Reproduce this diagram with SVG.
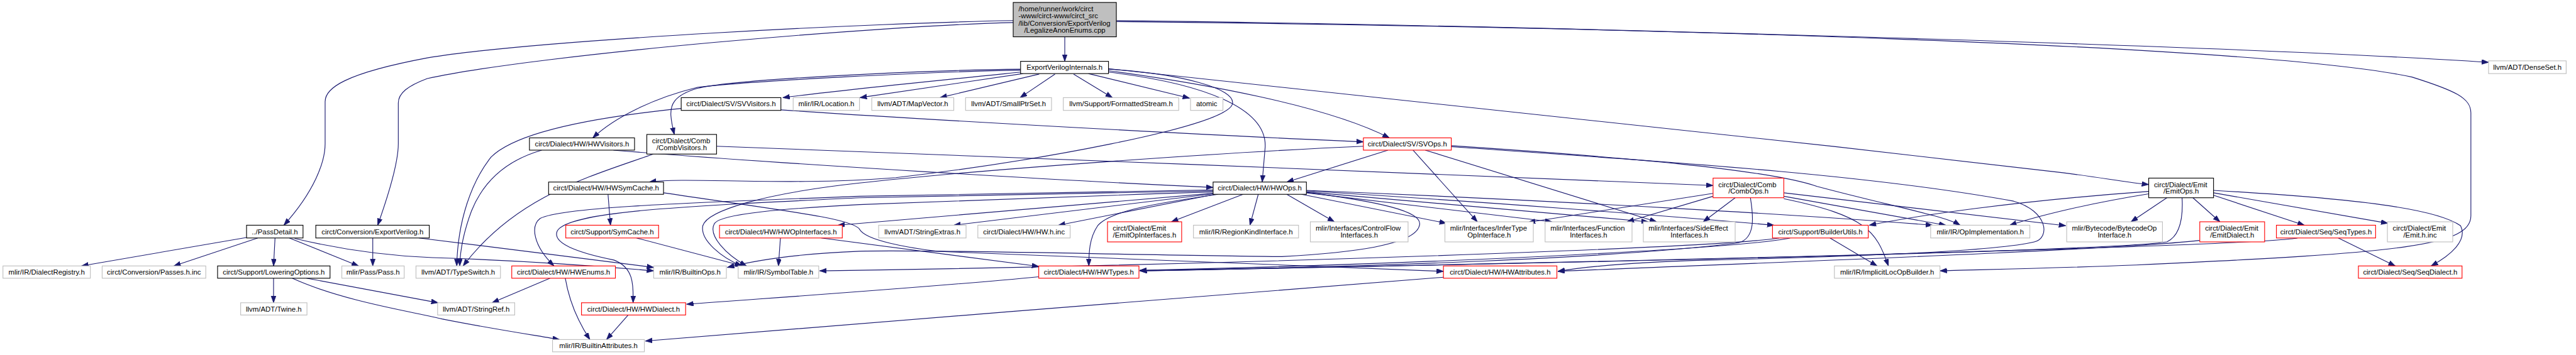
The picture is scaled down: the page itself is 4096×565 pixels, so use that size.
<svg xmlns="http://www.w3.org/2000/svg" width="4096" height="565" viewBox="0 0 4096 565">
<style>
.node rect{fill:#fff;stroke:#bfbfbf;stroke-width:1.45}
.node.b rect{stroke:#000}
.node.r rect{stroke:#ff0000}
.node.m rect{fill:#bfbfbf;stroke:#000}
.node text{font-family:"Liberation Sans",Arial,sans-serif;font-size:14.6px;fill:#000;text-anchor:middle}
.node text.l{text-anchor:start}
#edges path{fill:none;stroke:#191970;stroke-width:1.45;marker-end:url(#ah)}
</style>
<defs>
<marker id="ah" markerUnits="userSpaceOnUse" markerWidth="15" markerHeight="11" refX="14" refY="5" orient="auto">
<path d="M0,0 L14,5 L0,10 z" fill="#191970" stroke="#191970" stroke-width="1"/>
</marker>
</defs>
<rect width="4096" height="565" fill="#fff"/>
<g transform="scale(0.78093)">
<g id="edges">
<path d="M2168,75 L2168,125"/>
<path d="M2063,42 C1800,46 1100,80 870,118 C700,150 662,180 662,207 L662,293 C662,330 640,390 578,459"/>
<path d="M2063,46 C1800,52 1100,110 870,160 C830,175 811,190 811,210 L811,293 C811,330 790,400 769,459"/>
<path d="M2273,42 C3000,50 4500,90 5067,127"/>
<path d="M2273,44 C3300,55 4600,90 4911,157 C5000,185 5031,200 5031,230 L5031,440 C5031,500 4900,515 4350,540 C4150,548 4000,550 3950,552"/>
<path d="M2078,141 C1900,143 1500,160 1420,180 C1370,195 1365,215 1366,235 C1367,250 1370,262 1373,274"/>
<path d="M2078,143 C1900,146 1520,165 1420,178 C1330,200 1250,240 1207,281"/>
<path d="M2078,147 C1900,165 1700,185 1594,199"/>
<path d="M2083,150 L1751,199"/>
<path d="M2116,151 L1914,199"/>
<path d="M2148,151 L2077,199"/>
<path d="M2186,151 L2265,199"/>
<path d="M2216,150 L2422,200"/>
<path d="M2257,144 C2450,170 2700,215 2829,281"/>
<path d="M2257,141 C2400,150 2520,180 2509,213 C2490,260 2100,330 1824,362 C1600,380 1400,360 1322,371"/>
<path d="M2257,147 C2450,170 2580,220 2576,300 L2570,371"/>
<path d="M2257,140 C2700,185 3500,270 4200,352 C4280,362 4330,372 4375,376"/>
<path d="M502,484 L166,542"/>
<path d="M525,485 L354,542"/>
<path d="M560,485 L557,542"/>
<path d="M589,485 L730,542"/>
<path d="M600,486 C700,510 800,522 880,525 C1100,532 1250,545 1331,552"/>
<path d="M759,485 L759,542"/>
<path d="M853,485 C950,497 1200,528 1331,545"/>
<path d="M557,567 L557,617"/>
<path d="M624,567 L892,617"/>
<path d="M595,567 C700,615 850,637 900,650 C1000,670 1100,685 1139,692"/>
<path d="M1387,221 C1200,240 1050,270 1000,320 C960,370 932,450 930,542"/>
<path d="M1590,224 C1900,245 2500,278 2776,289"/>
<path d="M1103,306 C1020,330 980,380 960,430 C945,470 937,510 936,542"/>
<path d="M1249,306 C1600,335 2200,370 2470,382"/>
<path d="M1330,314 C1200,360 1050,400 943,542"/>
<path d="M1459,298 C2000,320 3000,355 3488,378"/>
<path d="M2826,306 L2620,371"/>
<path d="M2877,306 L3008,452"/>
<path d="M2902,306 L3373,452"/>
<path d="M2955,297 C3300,320 3600,345 3700,380 C3850,420 3960,440 3991,459"/>
<path d="M2955,299 C3400,330 3800,355 4100,410 C4170,430 4175,485 4142,493 C4050,515 3700,525 3480,530 C3300,535 3220,545 3172,553"/>
<path d="M2776,298 C2500,310 2000,345 1750,373 C1550,395 1440,430 1431,460 C1425,490 1470,525 1510,542"/>
<path d="M2470,391 C2200,400 1900,410 1750,417 C1600,425 1470,435 1455,455 C1440,480 1480,520 1520,542"/>
<path d="M2470,387 C2100,392 1800,397 1750,400 C1450,412 1150,420 1100,445 C1080,460 1085,500 1128,542"/>
<path d="M2470,389 C2100,395 1800,402 1750,403 C1400,420 1160,430 1135,470 C1120,500 1200,520 1250,530 C1290,545 1290,580 1289,617"/>
<path d="M2470,394 L1706,459"/>
<path d="M2470,395 L1942,459"/>
<path d="M2474,396 L2155,459"/>
<path d="M2531,396 L2385,452"/>
<path d="M2562,396 L2545,459"/>
<path d="M2480,396 C2350,415 2260,430 2235,460 C2218,485 2217,515 2217,542"/>
<path d="M2620,396 L2717,452"/>
<path d="M2650,396 L2945,455"/>
<path d="M2660,393 L3160,452"/>
<path d="M2660,391 L3356,452"/>
<path d="M2660,389 C3000,410 3400,440 3612,459"/>
<path d="M2660,388 C3200,410 3700,440 3935,459"/>
<path d="M2660,392 C2800,410 2900,430 2890,460 C2880,500 2750,515 2610,523 C2300,520 1900,508 1750,512 C1600,518 1520,535 1481,545"/>
<path d="M1589,485 L1585,542"/>
<path d="M1672,485 L2115,543"/>
<path d="M1296,485 L1512,542"/>
<path d="M1238,396 L1243,459"/>
<path d="M1351,393 C1600,430 1734,445 1750,467 C1762,490 1850,505 1908,512 C2300,530 2700,545 2939,553"/>
<path d="M1120,567 L1002,617"/>
<path d="M1151,567 C1160,620 1180,660 1201,692"/>
<path d="M1279,642 L1235,692"/>
<path d="M2115,564 C1900,585 1600,605 1398,620"/>
<path d="M2939,565 C2500,600 1800,655 1314,695"/>
<path d="M3488,394 L3112,453"/>
<path d="M3488,400 L3313,452"/>
<path d="M3533,403 L3468,452"/>
<path d="M3564,403 C3570,440 3575,485 3540,495 C3300,525 2800,545 2321,551"/>
<path d="M3632,393 L4206,460"/>
<path d="M3632,400 L3962,459"/>
<path d="M3632,405 C3800,440 3820,470 3845,542"/>
<path d="M3726,485 L3822,542"/>
<path d="M3623,485 C3500,505 2500,540 1669,552"/>
<path d="M3645,485 C3550,505 3000,535 2321,551"/>
<path d="M4465,403 L4520,452"/>
<path d="M4507,398 L4692,459"/>
<path d="M4507,393 L4862,455"/>
<path d="M4507,388 C4800,405 4960,425 5010,460 C5025,490 4990,520 4950,542"/>
<path d="M4761,485 L4877,542"/>
<path d="M4412,403 L4339,452"/>
<path d="M4375,395 C4250,415 4150,440 4092,459"/>
<path d="M4375,390 C4100,410 3900,440 3806,459"/>
<path d="M4443,403 C4445,440 4440,480 4412,493 C4300,510 3500,530 2321,552"/>
<path d="M4479,490 C4300,510 3600,535 3172,553"/>
<path d="M4678,485 C4600,500 3500,530 2321,552"/>
</g>
<g id="n_main" class="node m"><rect x="2063" y="5" width="210" height="70"/><text class="l" x="2073.7" y="22.7">/home/runner/work/circt</text><text class="l" x="2073.7" y="37.7">-www/circt-www/circt_src</text><text class="l" x="2073.7" y="52.2">/lib/Conversion/ExportVerilog</text><text x="2168" y="67">/LegalizeAnonEnums.cpp</text></g>
<g id="n_evi" class="node b"><rect x="2078" y="125" width="179" height="25"/><text x="2167.5" y="142.5">ExportVerilogInternals.h</text></g>
<g id="n_passdetail" class="node b"><rect x="502" y="459" width="115" height="26"/><text x="559.5" y="477">../PassDetail.h</text></g>
<g id="n_exportverilog" class="node b"><rect x="643" y="459" width="231" height="26"/><text x="758.5" y="477">circt/Conversion/ExportVerilog.h</text></g>
<g id="n_denseset" class="node"><rect x="5067" y="124" width="158" height="26"/><text x="5146" y="142">llvm/ADT/DenseSet.h</text></g>
<g id="n_implicit" class="node"><rect x="3735" y="542" width="215" height="25"/><text x="3842.5" y="559.5">mlir/IR/ImplicitLocOpBuilder.h</text></g>
<g id="n_svvisitors" class="node b"><rect x="1387" y="199" width="203" height="26"/><text x="1488.5" y="217">circt/Dialect/SV/SVVisitors.h</text></g>
<g id="n_location" class="node"><rect x="1615" y="199" width="135" height="26"/><text x="1682.5" y="217">mlir/IR/Location.h</text></g>
<g id="n_mapvector" class="node"><rect x="1775" y="199" width="167" height="26"/><text x="1858.5" y="217">llvm/ADT/MapVector.h</text></g>
<g id="n_smallptrset" class="node"><rect x="1966" y="199" width="175" height="26"/><text x="2053.5" y="217">llvm/ADT/SmallPtrSet.h</text></g>
<g id="n_formattedstream" class="node"><rect x="2165" y="199" width="235" height="26"/><text x="2282.5" y="217">llvm/Support/FormattedStream.h</text></g>
<g id="n_atomic" class="node"><rect x="2424" y="199" width="66" height="26"/><text x="2457" y="217">atomic</text></g>
<g id="n_hwvisitors" class="node b"><rect x="1078" y="281" width="214" height="25"/><text x="1185" y="298.5">circt/Dialect/HW/HWVisitors.h</text></g>
<g id="n_combvisitors" class="node b"><rect x="1317" y="274" width="142" height="40"/><text class="l" x="1327.7" y="292">circt/Dialect/Comb</text><text x="1388" y="306">/CombVisitors.h</text></g>
<g id="n_svops" class="node r"><rect x="2776" y="281" width="179" height="25"/><text x="2865.5" y="298.5">circt/Dialect/SV/SVOps.h</text></g>
<g id="n_hwsymcache" class="node b"><rect x="1117" y="371" width="234" height="25"/><text x="1234" y="388.5">circt/Dialect/HW/HWSymCache.h</text></g>
<g id="n_hwops" class="node b"><rect x="2470" y="371" width="190" height="25"/><text x="2565" y="388.5">circt/Dialect/HW/HWOps.h</text></g>
<g id="n_combops" class="node r"><rect x="3488" y="363" width="144" height="40"/><text class="l" x="3498.7" y="381">circt/Dialect/Comb</text><text x="3560" y="395">/CombOps.h</text></g>
<g id="n_emitops" class="node b"><rect x="4375" y="363" width="132" height="40"/><text class="l" x="4385.7" y="381">circt/Dialect/Emit</text><text x="4441" y="395">/EmitOps.h</text></g>
<g id="n_dialectregistry" class="node"><rect x="6" y="542" width="178" height="25"/><text x="95" y="559.5">mlir/IR/DialectRegistry.h</text></g>
<g id="n_passesinc" class="node"><rect x="208" y="542" width="211" height="25"/><text x="313.5" y="559.5">circt/Conversion/Passes.h.inc</text></g>
<g id="n_loweringoptions" class="node b"><rect x="443" y="542" width="229" height="25"/><text x="557.5" y="559.5">circt/Support/LoweringOptions.h</text></g>
<g id="n_pass" class="node"><rect x="696" y="542" width="127" height="25"/><text x="759.5" y="559.5">mlir/Pass/Pass.h</text></g>
<g id="n_typeswitch" class="node"><rect x="847" y="542" width="172" height="25"/><text x="933" y="559.5">llvm/ADT/TypeSwitch.h</text></g>
<g id="n_twine" class="node"><rect x="490" y="617" width="135" height="25"/><text x="557.5" y="634.5">llvm/ADT/Twine.h</text></g>
<g id="n_symcache" class="node r"><rect x="1152" y="459" width="189" height="26"/><text x="1246.5" y="477">circt/Support/SymCache.h</text></g>
<g id="n_hwopinterfaces" class="node r"><rect x="1465" y="459" width="250" height="26"/><text x="1590" y="477">circt/Dialect/HW/HWOpInterfaces.h</text></g>
<g id="n_hwenums" class="node r"><rect x="1042" y="542" width="211" height="25"/><text x="1147.5" y="559.5">circt/Dialect/HW/HWEnums.h</text></g>
<g id="n_builtinops" class="node"><rect x="1331" y="542" width="148" height="25"/><text x="1405" y="559.5">mlir/IR/BuiltinOps.h</text></g>
<g id="n_symboltable" class="node"><rect x="1503" y="542" width="164" height="25"/><text x="1585" y="559.5">mlir/IR/SymbolTable.h</text></g>
<g id="n_stringref" class="node"><rect x="891" y="617" width="157" height="25"/><text x="969.5" y="634.5">llvm/ADT/StringRef.h</text></g>
<g id="n_hwdialect" class="node r"><rect x="1184" y="617" width="212" height="25"/><text x="1290" y="634.5">circt/Dialect/HW/HWDialect.h</text></g>
<g id="n_builtinattributes" class="node"><rect x="1125" y="692" width="187" height="25"/><text x="1218.5" y="709.5">mlir/IR/BuiltinAttributes.h</text></g>
<g id="n_stringextras" class="node"><rect x="1789" y="459" width="178" height="26"/><text x="1878" y="477">llvm/ADT/StringExtras.h</text></g>
<g id="n_hwinc" class="node"><rect x="1991" y="459" width="188" height="26"/><text x="2085" y="477">circt/Dialect/HW/HW.h.inc</text></g>
<g id="n_emitopinterfaces" class="node r"><rect x="2255" y="452" width="151" height="41"/><text class="l" x="2265.7" y="470.5">circt/Dialect/Emit</text><text x="2330.5" y="484.5">/EmitOpInterfaces.h</text></g>
<g id="n_regionkind" class="node"><rect x="2430" y="459" width="214" height="26"/><text x="2537" y="477">mlir/IR/RegionKindInterface.h</text></g>
<g id="n_hwtypes" class="node r"><rect x="2115" y="542" width="204" height="25"/><text x="2217" y="559.5">circt/Dialect/HW/HWTypes.h</text></g>
<g id="n_controlflow" class="node"><rect x="2668" y="452" width="199" height="41"/><text class="l" x="2678.7" y="470.5">mlir/Interfaces/ControlFlow</text><text x="2767.5" y="484.5">Interfaces.h</text></g>
<g id="n_infertype" class="node"><rect x="2942" y="452" width="180" height="41"/><text class="l" x="2952.7" y="470.5">mlir/Interfaces/InferType</text><text x="3032" y="484.5">OpInterface.h</text></g>
<g id="n_function" class="node"><rect x="3146" y="452" width="177" height="41"/><text class="l" x="3156.7" y="470.5">mlir/Interfaces/Function</text><text x="3234.5" y="484.5">Interfaces.h</text></g>
<g id="n_sideeffect" class="node"><rect x="3346" y="452" width="187" height="41"/><text class="l" x="3356.7" y="470.5">mlir/Interfaces/SideEffect</text><text x="3439.5" y="484.5">Interfaces.h</text></g>
<g id="n_hwattributes" class="node r"><rect x="2939" y="542" width="231" height="25"/><text x="3054.5" y="559.5">circt/Dialect/HW/HWAttributes.h</text></g>
<g id="n_builderutils" class="node r"><rect x="3609" y="459" width="195" height="26"/><text x="3706.5" y="477">circt/Support/BuilderUtils.h</text></g>
<g id="n_opimpl" class="node"><rect x="3931" y="459" width="202" height="26"/><text x="4032" y="477">mlir/IR/OpImplementation.h</text></g>
<g id="n_bytecode" class="node"><rect x="4208" y="452" width="195" height="41"/><text class="l" x="4218.7" y="470.5">mlir/Bytecode/BytecodeOp</text><text x="4305.5" y="484.5">Interface.h</text></g>
<g id="n_emitdialect" class="node r"><rect x="4479" y="452" width="132" height="41"/><text class="l" x="4489.7" y="470.5">circt/Dialect/Emit</text><text x="4545" y="484.5">/EmitDialect.h</text></g>
<g id="n_seqtypes" class="node r"><rect x="4635" y="459" width="202" height="26"/><text x="4736" y="477">circt/Dialect/Seq/SeqTypes.h</text></g>
<g id="n_emitinc" class="node"><rect x="4861" y="452" width="133" height="41"/><text class="l" x="4871.7" y="470.5">circt/Dialect/Emit</text><text x="4927.5" y="484.5">/Emit.h.inc</text></g>
<g id="n_seqdialect" class="node r"><rect x="4802" y="542" width="211" height="25"/><text x="4907.5" y="559.5">circt/Dialect/Seq/SeqDialect.h</text></g>
</g>
</svg>
